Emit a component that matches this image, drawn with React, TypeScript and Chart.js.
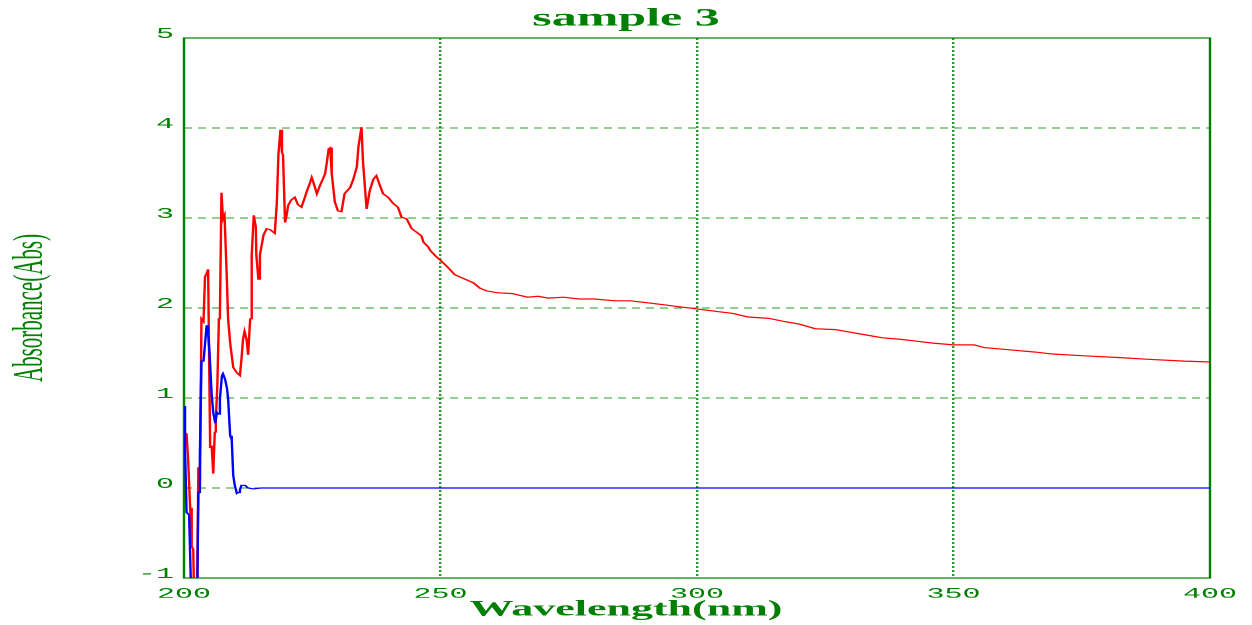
import React, { useEffect, useRef } from 'react';
import { Chart, registerables } from 'chart.js';

Chart.register(...registerables);

const chartTitle = 'sample 3';
const xAxisTitle = 'Wavelength(nm)';
const yAxisTitle = 'Absorbance(Abs)';

const xTickValues = [200, 250, 300, 350, 400];
const yTickValues = [-1, 0, 1, 2, 3, 4, 5];

const redWavelength = [
  200.0, 200.5, 200.8, 201.2, 201.5, 201.8, 202.1, 202.5, 202.8, 203.1,
  203.4, 203.8, 204.1, 204.4, 204.7, 205.1, 205.4, 205.7, 206.0, 206.2,
  206.5, 206.8, 207.0, 207.3, 207.6, 207.9, 208.3, 208.6, 209.0, 209.6,
  210.3, 210.9, 211.2, 211.5, 211.8, 212.2, 212.5, 212.9, 213.2, 213.6,
  214.0, 214.1, 214.5, 214.8, 215.5, 216.1, 216.8, 217.7, 218.1, 218.4,
  218.8, 219.1, 219.3, 219.7, 220.0, 220.3, 220.9, 221.6, 222.2, 222.9,
  223.5, 223.9, 224.5, 224.9, 225.2, 225.9, 226.5, 227.5, 227.8, 228.2,
  228.5, 228.8, 229.4, 230.0, 230.7, 231.3, 232.4, 233.0, 233.7, 234.0,
  234.6, 234.9, 235.6, 236.2, 236.9, 237.5, 238.2, 238.8, 239.8, 240.8,
  241.7, 242.4, 243.4, 244.4, 245.4, 246.3, 246.7, 247.6, 248.0, 249.0,
  250.0, 251.3, 252.8, 254.4, 256.4, 257.7, 259, 261, 264, 267,
  269, 271, 274, 277, 280, 284, 287, 290, 293, 297,
  300, 304, 307, 310, 314, 317, 320, 323, 327, 330,
  333, 336, 340, 343, 346, 350, 354, 356, 359, 362,
  366, 369, 375, 382, 388, 395, 400,
];

const redAbsorbance = [
  0.62, 0.6, 0.32, -0.22, -0.65, -0.68, -1.6, -1.6, 0.23, 0.02,
  1.88, 1.85, 2.35, 2.38, 2.43, 0.45, 0.47, 0.16, 0.62, 0.75,
  1.14, 1.88, 1.91, 3.28, 2.99, 3.03, 2.41, 1.88, 1.61, 1.34,
  1.28, 1.25, 1.43, 1.65, 1.74, 1.65, 1.48, 1.88, 2.59, 3.03,
  2.9, 2.59, 2.32, 2.59, 2.81, 2.88, 2.87, 2.83, 3.17, 3.7,
  3.98, 3.73, 3.7, 2.95, 3.03, 3.14, 3.2, 3.23, 3.15, 3.12,
  3.22, 3.29, 3.38, 3.45, 3.4, 3.27, 3.36, 3.49, 3.6, 3.77,
  3.78, 3.49, 3.18, 3.08, 3.07, 3.27, 3.34, 3.43, 3.57, 3.79,
  4.01, 3.62, 3.1, 3.3, 3.43, 3.47, 3.36, 3.27, 3.23, 3.16,
  3.12, 3.01, 2.99, 2.88, 2.84, 2.8, 2.73, 2.68, 2.64, 2.58,
  2.53, 2.46, 2.37, 2.33, 2.28, 2.22, 2.19, 2.17, 2.16, 2.12,
  2.13, 2.11, 2.12, 2.1, 2.1, 2.08, 2.08, 2.06, 2.04, 2.01,
  1.99, 1.96, 1.94, 1.9, 1.885, 1.85, 1.82, 1.77, 1.76, 1.73,
  1.7, 1.67, 1.65, 1.63, 1.61, 1.59, 1.59, 1.56, 1.545, 1.53,
  1.51, 1.49, 1.47, 1.45, 1.43, 1.41, 1.4,
];

const blueWavelength = [
  200.0, 200.2, 200.5, 201.0, 201.3, 201.6, 202.5, 202.8, 203.1, 203.4,
  203.8, 204.1, 204.4, 204.6, 205.0, 205.4, 205.7, 206.1, 206.4, 206.7,
  207.0, 207.4, 207.6, 208.0, 208.4, 208.6, 209.0, 209.3, 209.6, 209.9,
  210.3, 210.6, 210.9, 211.2, 211.9, 212.5, 213.5, 215, 250, 300,
  350, 400,
];

const blueAbsorbance = [
  0.91, 0.43, -0.27, -0.3, -0.97, -1.6, -1.6, -0.05, 0.36, 1.41,
  1.41, 1.6, 1.8, 1.81, 1.48, 1.03, 0.84, 0.72, 0.84, 0.82,
  0.99, 1.25, 1.27, 1.21, 1.1, 0.99, 0.58, 0.54, 0.14, 0.03,
  -0.06, -0.05, -0.02, 0.03, 0.03, 0.0, -0.01, 0.0, 0.0, 0.0,
  0.0, 0.0,
];

const GREEN = '#008000';
const GRID_GREEN = 'rgba(0,140,0,0.85)';

const framePlugin = {
  id: 'frame',
  beforeDatasetsDraw(chart: any) {
    const { ctx, chartArea: a } = chart;
    ctx.save();
    ctx.setLineDash([]);
    ctx.strokeStyle = GREEN;
    ctx.lineWidth = 1.2;
    ctx.strokeRect(a.left, a.top, a.right - a.left, a.bottom - a.top);
    ctx.restore();
  },
};

export default function App() {
  const canvasRef = useRef<HTMLCanvasElement | null>(null);

  useEffect(() => {
    if (!canvasRef.current) return;
    const red = redWavelength.map((x, i) => ({ x, y: redAbsorbance[i] }));
    const blue = blueWavelength.map((x, i) => ({ x, y: blueAbsorbance[i] }));

    const chart = new Chart(canvasRef.current, {
      type: 'line',
      data: {
        datasets: [
          {
            label: 'blue',
            data: blue,
            borderColor: '#0000ff',
            borderWidth: 1.2,
            pointRadius: 0,
            tension: 0,
          },
          {
            label: 'red',
            data: red,
            borderColor: '#ff0000',
            borderWidth: 1.2,
            pointRadius: 0,
            tension: 0,
          },
        ],
      },
      plugins: [framePlugin],
      options: {
        animation: false,
        responsive: false,
        devicePixelRatio: 2,
        layout: { padding: 0 },
        plugins: {
          legend: { display: false },
          tooltip: { enabled: false },
          title: {
            display: true,
            text: chartTitle,
            color: GREEN,
            font: { family: '"Liberation Serif", serif', size: 25, weight: 'bold', lineHeight: 1.2 },
            padding: { top: 4, bottom: 4 },
          },
          subtitle: {
            display: true,
            position: 'bottom',
            text: xAxisTitle,
            color: GREEN,
            font: { family: '"Liberation Serif", serif', size: 22, weight: 'bold', lineHeight: 1.1 },
            padding: { top: 0, bottom: 3 },
          },
        },
        scales: {
          x: {
            type: 'linear',
            min: 200,
            max: 400,
            afterBuildTicks: (s: any) => {
              s.ticks = xTickValues.map((v) => ({ value: v }));
            },
            afterFit: (s: any) => {
              s.height = 19.8;
            },
            ticks: {
              color: GREEN,
              font: { family: '"Liberation Mono", monospace', size: 15 },
              padding: 7,
              maxRotation: 0,
              autoSkip: false,
            },
            grid: {
              color: (c: any) =>
                c.tick && (c.tick.value === 200 || c.tick.value === 400) ? 'rgba(0,0,0,0)' : GRID_GREEN,
              lineWidth: 1.2,
              drawTicks: false,
            },
            border: { display: false, dash: [2, 2] },
          },
          y: {
            type: 'linear',
            min: -1,
            max: 5,
            afterBuildTicks: (s: any) => {
              s.ticks = yTickValues.map((v) => ({ value: v }));
            },
            afterFit: (s: any) => {
              s.width = 92;
            },
            ticks: {
              color: GREEN,
              font: { family: '"Liberation Mono", monospace', size: 15 },
              padding: 5,
              labelOffset: -4,
              autoSkip: false,
            },
            grid: {
              color: (c: any) =>
                c.tick && (c.tick.value === -1 || c.tick.value === 5) ? 'rgba(0,0,0,0)' : GRID_GREEN,
              lineWidth: 1,
              drawTicks: false,
            },
            border: { display: false, dash: [4, 3] },
            title: {
              display: true,
              text: yAxisTitle,
              color: GREEN,
              font: { family: '"Liberation Serif", serif', size: 21, lineHeight: 1.2 },
              padding: { top: 3, bottom: 0 },
            },
          },
          y2: {
            type: 'linear',
            position: 'right',
            display: true,
            afterFit: (s: any) => {
              s.width = 21;
            },
            ticks: { display: false },
            grid: { display: false },
            border: { display: false },
          },
        },
      },
    } as any);

    return () => chart.destroy();
  }, []);

  return (
    <div
      style={{
        position: 'absolute',
        left: 0,
        top: 0,
        width: 626,
        height: 625,
        transform: 'scaleX(2)',
        transformOrigin: '0 0',
      }}
    >
      <canvas ref={canvasRef} width={626} height={625} />
    </div>
  );
}
